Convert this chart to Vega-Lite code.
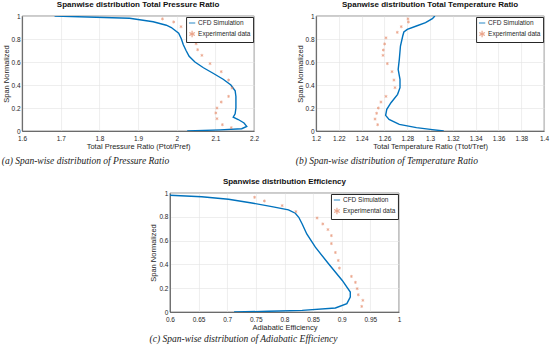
{
  "$schema": "https://vega.github.io/schema/vega-lite/v6.json",
  "background": "white",
  "padding": {"left": 1, "top": 0, "right": 2, "bottom": 1},
  "datasets": {
    "pa_cfd": [
      {"x": 1.684, "s": 1.0}, {"x": 1.878, "s": 0.98}, {"x": 1.939, "s": 0.95}, {"x": 1.973, "s": 0.92},
      {"x": 1.986, "s": 0.9}, {"x": 2.005, "s": 0.85}, {"x": 2.012, "s": 0.8}, {"x": 2.017, "s": 0.75},
      {"x": 2.024, "s": 0.7}, {"x": 2.032, "s": 0.65}, {"x": 2.047, "s": 0.6}, {"x": 2.069, "s": 0.55},
      {"x": 2.095, "s": 0.5}, {"x": 2.12, "s": 0.45}, {"x": 2.14, "s": 0.4}, {"x": 2.151, "s": 0.35},
      {"x": 2.153, "s": 0.3}, {"x": 2.153, "s": 0.2}, {"x": 2.151, "s": 0.15}, {"x": 2.146, "s": 0.12},
      {"x": 2.159, "s": 0.1}, {"x": 2.174, "s": 0.07}, {"x": 2.181, "s": 0.04}, {"x": 2.168, "s": 0.02},
      {"x": 2.112, "s": 0.01}, {"x": 2.027, "s": 0.0}
    ],
    "pa_exp": [
      {"x": 1.963, "s": 0.975}, {"x": 1.992, "s": 0.948}, {"x": 2.011, "s": 0.907}, {"x": 2.031, "s": 0.858},
      {"x": 2.04, "s": 0.814}, {"x": 2.05, "s": 0.759}, {"x": 2.054, "s": 0.707}, {"x": 2.065, "s": 0.658},
      {"x": 2.086, "s": 0.586}, {"x": 2.115, "s": 0.516}, {"x": 2.134, "s": 0.443}, {"x": 2.143, "s": 0.374},
      {"x": 2.134, "s": 0.301}, {"x": 2.115, "s": 0.252}, {"x": 2.104, "s": 0.2}, {"x": 2.101, "s": 0.157},
      {"x": 2.104, "s": 0.107}, {"x": 2.118, "s": 0.055}, {"x": 2.141, "s": 0.029}
    ],
    "pb_cfd": [
      {"x": 1.3042, "s": 1.0}, {"x": 1.302, "s": 0.977}, {"x": 1.296, "s": 0.942}, {"x": 1.288, "s": 0.913},
      {"x": 1.28, "s": 0.884}, {"x": 1.277, "s": 0.861}, {"x": 1.276, "s": 0.826}, {"x": 1.274, "s": 0.739},
      {"x": 1.273, "s": 0.623}, {"x": 1.272, "s": 0.536}, {"x": 1.2736, "s": 0.449}, {"x": 1.2736, "s": 0.377},
      {"x": 1.2715, "s": 0.319}, {"x": 1.2657, "s": 0.246}, {"x": 1.262, "s": 0.188}, {"x": 1.261, "s": 0.136},
      {"x": 1.264, "s": 0.101}, {"x": 1.273, "s": 0.058}, {"x": 1.288, "s": 0.029}, {"x": 1.302, "s": 0.012},
      {"x": 1.312, "s": 0.0}
    ],
    "pb_exp": [
      {"x": 1.2806, "s": 0.975}, {"x": 1.281, "s": 0.948}, {"x": 1.2747, "s": 0.907}, {"x": 1.2712, "s": 0.858},
      {"x": 1.2613, "s": 0.81}, {"x": 1.2601, "s": 0.757}, {"x": 1.259, "s": 0.704}, {"x": 1.2587, "s": 0.658},
      {"x": 1.2625, "s": 0.586}, {"x": 1.2666, "s": 0.516}, {"x": 1.2683, "s": 0.443}, {"x": 1.2692, "s": 0.377},
      {"x": 1.2613, "s": 0.301}, {"x": 1.2569, "s": 0.252}, {"x": 1.2546, "s": 0.2}, {"x": 1.2531, "s": 0.154},
      {"x": 1.2517, "s": 0.104}, {"x": 1.254, "s": 0.055}
    ],
    "pc_cfd": [
      {"x": 0.58, "s": 0.985}, {"x": 0.6555, "s": 0.969}, {"x": 0.7023, "s": 0.947}, {"x": 0.743, "s": 0.916},
      {"x": 0.778, "s": 0.885}, {"x": 0.807, "s": 0.858}, {"x": 0.819, "s": 0.83}, {"x": 0.825, "s": 0.796},
      {"x": 0.831, "s": 0.74}, {"x": 0.839, "s": 0.656}, {"x": 0.854, "s": 0.545}, {"x": 0.877, "s": 0.405},
      {"x": 0.901, "s": 0.265}, {"x": 0.915, "s": 0.168}, {"x": 0.915, "s": 0.126}, {"x": 0.909, "s": 0.07},
      {"x": 0.889, "s": 0.034}, {"x": 0.831, "s": 0.014}, {"x": 0.772, "s": 0.006}, {"x": 0.712, "s": 0.0}
    ],
    "pc_exp": [
      {"x": 0.7478, "s": 0.964}, {"x": 0.765, "s": 0.933}, {"x": 0.796, "s": 0.894}, {"x": 0.82, "s": 0.844},
      {"x": 0.857, "s": 0.79}, {"x": 0.867, "s": 0.74}, {"x": 0.876, "s": 0.693}, {"x": 0.882, "s": 0.642},
      {"x": 0.882, "s": 0.575}, {"x": 0.889, "s": 0.5}, {"x": 0.894, "s": 0.433}, {"x": 0.896, "s": 0.369},
      {"x": 0.917, "s": 0.299}, {"x": 0.924, "s": 0.249}, {"x": 0.927, "s": 0.196}, {"x": 0.929, "s": 0.145},
      {"x": 0.937, "s": 0.098}, {"x": 0.935, "s": 0.047}
    ]
  },
  "vconcat": [
    {
      "hconcat": [
        {
          "title": {"text": "(a) Span-wise distribution of Pressure Ratio", "orient": "bottom", "font": "Liberation Serif", "fontStyle": "italic", "fontWeight": "normal", "fontSize": 9.5, "color": "#222", "offset": 6},
          "vconcat": [
            {
              "title": "Spanwise distribution Total Pressure Ratio",
              "width": 232, "height": 115,
              "encoding": {
                "x": {"field": "x", "type": "quantitative", "scale": {"domain": [1.6, 2.2], "nice": false, "zero": false}, "axis": {"values": [1.6, 1.7, 1.8, 1.9, 2, 2.1, 2.2], "title": "Total Pressure Ratio (Ptot/Pref)", "labelPadding": 4}},
                "y": {"field": "s", "type": "quantitative", "scale": {"domain": [0, 1], "nice": false}, "axis": {"values": [0, 0.2, 0.4, 0.6, 0.8, 1], "title": "Span Normalized"}},
                "color": {"field": "series", "type": "nominal", "scale": {"domain": ["CFD Simulation", "Experimental data"], "range": ["#0072BD", "#E3805C"]}, "legend": {"orient": "top-right", "title": null}}
              },
              "layer": [
                {
                  "data": {"name": "pa_cfd"},
                  "transform": [{"calculate": "'CFD Simulation'", "as": "series"}],
                  "mark": {"type": "line", "strokeWidth": 1.4, "clip": true},
                  "encoding": {"order": {"field": "s", "type": "quantitative"}}
                },
                {
                  "data": {"name": "pa_exp"},
                  "transform": [{"calculate": "'Experimental data'", "as": "series"}],
                  "mark": {"type": "point", "filled": false, "size": 9, "strokeWidth": 0.8},
                  "encoding": {
                    "shape": {"field": "series", "type": "nominal", "scale": {"domain": ["CFD Simulation", "Experimental data"], "range": ["stroke", "M0,-1L0,1M-0.87,-0.5L0.87,0.5M-0.87,0.5L0.87,-0.5"]}, "legend": {"orient": "top-right", "title": null}}
                  }
                }
              ]
            }
          ],
          "resolve": {"scale": {"color": "independent", "shape": "independent"}, "legend": {"color": "independent", "shape": "independent"}}
        },
        {
          "title": {"text": "(b) Span-wise distribution of Temperature Ratio", "orient": "bottom", "font": "Liberation Serif", "fontStyle": "italic", "fontWeight": "normal", "fontSize": 9.5, "color": "#222", "offset": 6},
          "vconcat": [
            {
              "title": "Spanwise distribution Total Temperature Ratio",
              "width": 228, "height": 115,
              "encoding": {
                "x": {"field": "x", "type": "quantitative", "scale": {"domain": [1.2, 1.4], "nice": false, "zero": false}, "axis": {"values": [1.2, 1.22, 1.24, 1.26, 1.28, 1.3, 1.32, 1.34, 1.36, 1.38, 1.4], "title": "Total Temperature Ratio (Ttot/Tref)", "labelPadding": 4}},
                "y": {"field": "s", "type": "quantitative", "scale": {"domain": [0, 1], "nice": false}, "axis": {"values": [0, 0.2, 0.4, 0.6, 0.8, 1], "title": "Span Normalized"}},
                "color": {"field": "series", "type": "nominal", "scale": {"domain": ["CFD Simulation", "Experimental data"], "range": ["#0072BD", "#E3805C"]}, "legend": {"orient": "top-right", "title": null}}
              },
              "layer": [
                {
                  "data": {"name": "pb_cfd"},
                  "transform": [{"calculate": "'CFD Simulation'", "as": "series"}],
                  "mark": {"type": "line", "strokeWidth": 1.4, "clip": true},
                  "encoding": {"order": {"field": "s", "type": "quantitative"}}
                },
                {
                  "data": {"name": "pb_exp"},
                  "transform": [{"calculate": "'Experimental data'", "as": "series"}],
                  "mark": {"type": "point", "filled": false, "size": 9, "strokeWidth": 0.8},
                  "encoding": {
                    "shape": {"field": "series", "type": "nominal", "scale": {"domain": ["CFD Simulation", "Experimental data"], "range": ["stroke", "M0,-1L0,1M-0.87,-0.5L0.87,0.5M-0.87,0.5L0.87,-0.5"]}, "legend": {"orient": "top-right", "title": null}}
                  }
                }
              ]
            }
          ],
          "resolve": {"scale": {"color": "independent", "shape": "independent"}, "legend": {"color": "independent", "shape": "independent"}}
        }
      ],
      "spacing": 36,
      "resolve": {"scale": {"color": "independent", "shape": "independent"}, "legend": {"color": "independent", "shape": "independent"}}
    },
    {
      "title": {"text": "(c) Span-wise distribution of Adiabatic Efficiency", "orient": "bottom", "font": "Liberation Serif", "fontStyle": "italic", "fontWeight": "normal", "fontSize": 9.5, "color": "#222", "offset": 3},
      "vconcat": [
        {
          "title": "Spanwise distribution Efficiency",
          "width": 229, "height": 119,
          "encoding": {
            "x": {"field": "x", "type": "quantitative", "scale": {"domain": [0.6, 1], "nice": false, "zero": false}, "axis": {"values": [0.6, 0.65, 0.7, 0.75, 0.8, 0.85, 0.9, 0.95, 1], "title": "Adiabatic Efficiency", "labelPadding": 4}},
            "y": {"field": "s", "type": "quantitative", "scale": {"domain": [0, 1], "nice": false}, "axis": {"values": [0, 0.2, 0.4, 0.6, 0.8, 1], "title": "Span Normalized"}},
            "color": {"field": "series", "type": "nominal", "scale": {"domain": ["CFD Simulation", "Experimental data"], "range": ["#0072BD", "#E3805C"]}, "legend": {"orient": "top-right", "title": null}}
          },
          "layer": [
            {
              "data": {"name": "pc_cfd"},
              "transform": [{"calculate": "'CFD Simulation'", "as": "series"}],
              "mark": {"type": "line", "strokeWidth": 1.4, "clip": true},
              "encoding": {"order": {"field": "s", "type": "quantitative"}}
            },
            {
              "data": {"name": "pc_exp"},
              "transform": [{"calculate": "'Experimental data'", "as": "series"}],
              "mark": {"type": "point", "filled": false, "size": 9, "strokeWidth": 0.8},
              "encoding": {
                "shape": {"field": "series", "type": "nominal", "scale": {"domain": ["CFD Simulation", "Experimental data"], "range": ["stroke", "M0,-1L0,1M-0.87,-0.5L0.87,0.5M-0.87,0.5L0.87,-0.5"]}, "legend": {"orient": "top-right", "title": null}}
              }
            }
          ]
        }
      ],
      "resolve": {"scale": {"color": "independent", "shape": "independent"}, "legend": {"color": "independent", "shape": "independent"}}
    }
  ],
  "spacing": 11,
  "center": true,
  "resolve": {"scale": {"x": "independent", "color": "independent", "shape": "independent"}, "legend": {"color": "independent", "shape": "independent"}},
  "config": {
    "font": "Liberation Sans",
    "view": {"stroke": "#262626", "strokeWidth": 0.6},
    "axis": {
      "labelFontSize": 6.5, "titleFontSize": 7.5, "titleFontWeight": "normal",
      "labelColor": "#262626", "titleColor": "#262626",
      "gridColor": "#e3e3e3", "gridWidth": 0.6,
      "domainColor": "#262626", "domainWidth": 0.6,
      "ticks": false,
      "labelPadding": 2, "titlePadding": 1, "format": "~g", "labelOverlap": false, "labelFlush": false
    },
    "title": {"fontSize": 8, "fontWeight": "bold", "color": "#111", "offset": 0},
    "legend": {
      "labelFontSize": 6.5, "labelColor": "#262626", "padding": 2, "rowPadding": 1,
      "strokeColor": "#262626", "fillColor": "white", "offset": 1,
      "symbolSize": 40, "symbolStrokeWidth": 1.2, "labelOffset": 2, "cornerRadius": 0
    }
  }
}
